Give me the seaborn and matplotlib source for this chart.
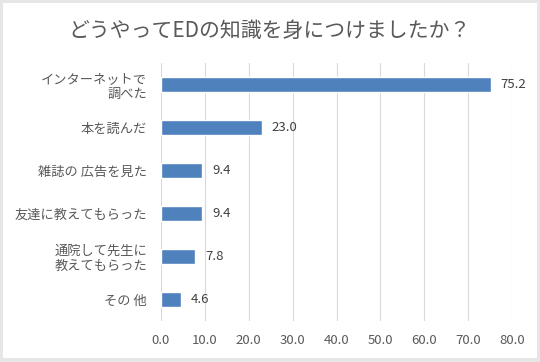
import matplotlib
matplotlib.use("Agg")
import matplotlib.pyplot as plt
import seaborn as sns
import pandas as pd
from matplotlib.patches import Rectangle

# データ
categories = ["インターネットで\n調べた", "本を読んだ", "雑誌の 広告を見た",
              "友達に教えてもらった", "通院して先生に\n教えてもらった", "その 他"]
values = [75.2, 23.0, 9.4, 9.4, 7.8, 4.6]
x_ticks = [0, 10, 20, 30, 40, 50, 60, 70, 80]

sns.set_theme(style="white")
plt.rcParams['font.family'] = ['Noto Sans CJK JP', 'DejaVu Sans']

df = pd.DataFrame({'cat': categories, 'val': values})

fig = plt.figure(figsize=(5.4, 3.62), dpi=100)
fig.patch.set_facecolor('#e6e6e6')
fig.patches.append(Rectangle((3 / 540, 4 / 362), 534 / 540, 355 / 362,
                             transform=fig.transFigure, facecolor='white',
                             edgecolor='none', zorder=-1))
ax = fig.add_axes([161 / 540, 41 / 362, 351 / 540, 258 / 362])
ax.set_facecolor('none')

sns.barplot(data=df, x='val', y='cat', color='#4F81BD', saturation=1,
            width=0.33, ax=ax)
ax.bar_label(ax.containers[0], fmt='%.1f', padding=7, fontsize=9.5, color='#404040')

ax.set_xlim(0, 80)
ax.set_xticks(x_ticks)
ax.set_xticklabels([f"{t:.1f}" for t in x_ticks], fontsize=9.5, color='#595959')
ax.tick_params(axis='y', labelsize=9.5, labelcolor='#595959', length=0, pad=10)
ax.tick_params(axis='x', length=0, pad=9)
ax.grid(axis='x', color='#d9d9d9', linewidth=0.8)
ax.set_axisbelow(True)
for s in ax.spines.values():
    s.set_visible(False)
ax.set_xlabel('')
ax.set_ylabel('')

fig.text(0.5, 1 - 31 / 362, "どうやってEDの知識を身につけましたか？",
         ha='center', va='center', fontsize=15, color='#595959')

fig.savefig('out.png', dpi=100)
